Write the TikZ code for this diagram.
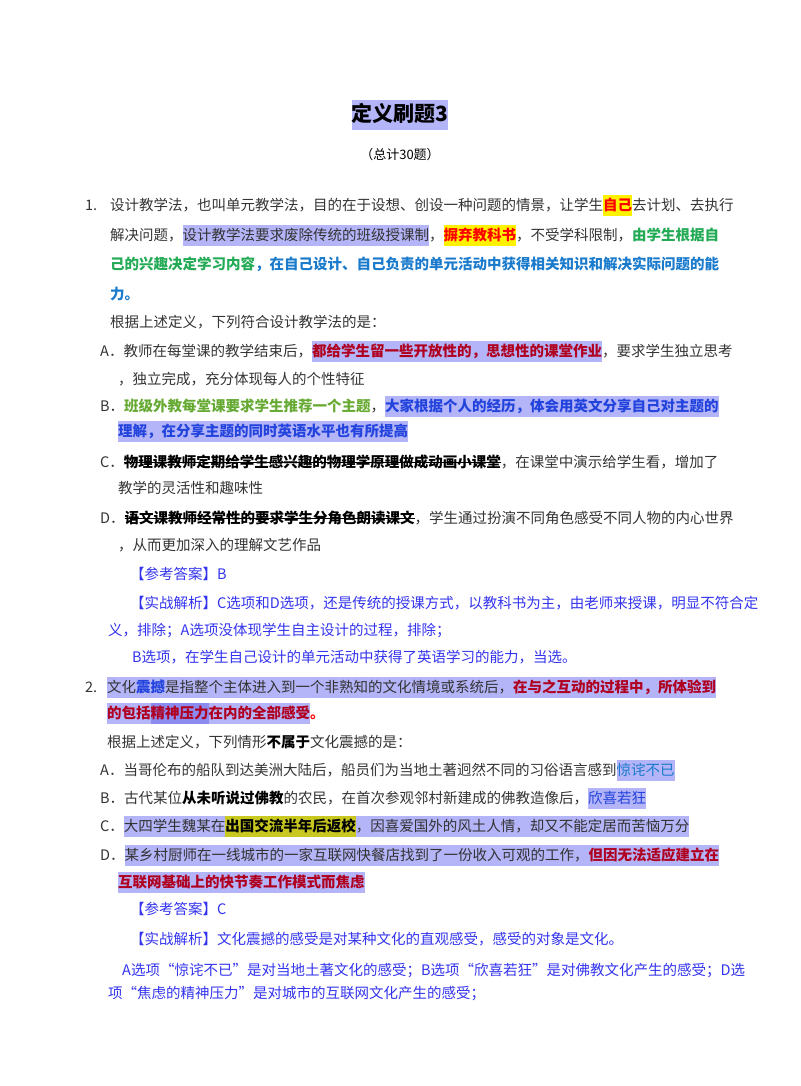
\documentclass[tikz,border=0pt]{standalone}
\usepackage{fontspec}
\setmainfont{Noto Sans CJK SC}
\usepackage{xcolor}
\definecolor{hlp}{HTML}{B4B4F8}
\definecolor{hlp2}{HTML}{8C8CF0}
\definecolor{hly}{HTML}{FFF200}
\definecolor{hlo}{HTML}{C8C820}
\definecolor{tgreen}{HTML}{22AA55}
\definecolor{tlgreen}{HTML}{66AA33}
\definecolor{tblue}{HTML}{1A7ACC}
\definecolor{tbblue}{HTML}{2244DD}
\definecolor{tred}{HTML}{B00020}
\definecolor{tana}{HTML}{3333EE}
\definecolor{tgray}{HTML}{333333}
\newcommand\hl[2]{{\setlength\fboxsep{0pt}\colorbox{#1}{\rule[-0.4em]{0pt}{1.45em}#2}}}
\newsavebox\sbx
\newcommand\strk[1]{\sbox\sbx{#1}\rlap{\usebox\sbx}{\color{black}\rule[0.3em]{\wd\sbx}{0.9pt}}}
\tikzset{ln/.style={anchor=base west,inner sep=0pt,font=\fontsize{14.5}{16}\selectfont,text=tgray},
ttl/.style={anchor=base,inner sep=0pt}}
\begin{document}
\begin{tikzpicture}[x=1pt,y=-1pt]
\useasboundingbox (0,0) rectangle (800,1086);
\node[ttl,font=\fontsize{21}{24}\selectfont\bfseries] (t) at (400,122) {\hl{hlp}{定义刷题3}};
\node[ttl,font=\fontsize{13}{15}\selectfont] (t2) at (400,160) {（总计30题）};
% Q1
\node[ln] (n1) at (85,210) {1.};
\node[ln] (q1a) at (110,210) {设计教学法，也叫单元教学法，目的在于设想、创设一种问题的情景，让学生\hl{hly}{\textcolor{red}{\bfseries 自己}}去计划、去执行};
\node[ln] (q1b) at (110,240) {解决问题，\hl{hlp}{设计教学法要求废除传统的班级授课制}，\hl{hly}{\textcolor{red}{\bfseries 摒弃教科书}}，不受学科限制，\textcolor{tgreen}{\bfseries 由学生根据自}};
\node[ln] (q1c) at (110,269) {\textcolor{tgreen}{\bfseries 己的兴趣决定学习内容}\textcolor{tblue}{\bfseries ，在自己设计、自己负责的单元活动中获得相关知识和解决实际问题的能}};
\node[ln] (q1d) at (110,299) {\textcolor{tblue}{\bfseries 力。}};
\node[ln] (q1q) at (110,327) {根据上述定义，下列符合设计教学法的是：};
\node[ln] (a1) at (100,356) {A．教师在每堂课的教学结束后，\hl{hlp}{\textcolor{tred}{\bfseries 都给学生留一些开放性的，思想性的课堂作业}}，要求学生独立思考};
\node[ln] (a1b) at (118,384) {，独立完成，充分体现每人的个性特征};
\node[ln] (b1) at (100,411) {B．\textcolor{tlgreen}{\bfseries 班级外教每堂课要求学生推荐一个主题}，\hl{hlp}{\textcolor{tbblue}{\bfseries 大家根据个人的经历，体会用英文分享自己对主题的}}};
\node[ln] (b1b) at (118,436) {\hl{hlp}{\textcolor{tbblue}{\bfseries 理解，在分享主题的同时英语水平也有所提高}}};
\node[ln] (c1) at (100,467) {C．\strk{\bfseries\color{black}物理课教师定期给学生感兴趣的物理学原理做成动画小课堂}，在课堂中演示给学生看，增加了};
\node[ln] (c1b) at (118,493) {教学的灵活性和趣味性};
\node[ln] (d1) at (100,523) {D．\strk{\bfseries\color{black}语文课教师经常性的要求学生分角色朗读课文}，学生通过扮演不同角色感受不同人物的内心世界};
\node[ln] (d1b) at (118,550) {，从而更加深入的理解文艺作品};
\node[ln,text=tana] (ans1) at (130,579) {【参考答案】B};
\node[ln,text=tana] (ex1) at (130,608) {【实战解析】C选项和D选项，还是传统的授课方式，以教科书为主，由老师来授课，明显不符合定};
\node[ln,text=tana] (ex1b) at (108,635) {义，排除；A选项没体现学生自主设计的过程，排除；};
\node[ln,text=tana] (ex1c) at (132,662) {B选项，在学生自己设计的单元活动中获得了英语学习的能力，当选。};
% Q2
\node[ln] (n2) at (85,692) {2.};
\node[ln] (q2a) at (107,692) {\hl{hlp}{文化\textcolor{tbblue}{\bfseries 震撼}是指整个主体进入到一个非熟知的文化情境或系统后，\textcolor{tred}{\bfseries 在与之互动的过程中，所体验到}}};
\node[ln] (q2b) at (107,718) {\hl{hlp}{\textcolor{tred}{\bfseries 的包括\hl{hlp2}{精神压力}在内的全部感受}}\textcolor{red}{\bfseries 。}};
\node[ln] (q2q) at (107,747) {根据上述定义，下列情形\textcolor{black}{\bfseries 不属于}文化震撼的是：};
\node[ln] (a2) at (100,775) {A．当哥伦布的船队到达美洲大陆后，船员们为当地土著迥然不同的习俗语言感到\hl{hlp}{\textcolor{tblue}{惊诧不已}}};
\node[ln] (b2) at (100,803) {B．古代某位\textcolor{black}{\bfseries 从未听说过佛教}的农民，在首次参观邻村新建成的佛教造像后，\hl{hlp}{\textcolor{tbblue}{欣喜若狂}}};
\node[ln] (c2) at (100,831) {C．\hl{hlp}{大四学生魏某在\hl{hlo}{\textcolor{black}{\bfseries 出国交流半年后返校}}，因喜爱国外的风土人情，却又不能定居而苦恼万分}};
\node[ln] (d2) at (100,860) {D．\hl{hlp}{某乡村厨师在一线城市的一家互联网快餐店找到了一份收入可观的工作，\textcolor{tred}{\bfseries 但因无法适应建立在}}};
\node[ln] (d2b) at (118,887) {\hl{hlp}{\textcolor{tred}{\bfseries 互联网基础上的快节奏工作模式而焦虑}}};
\node[ln,text=tana] (ans2) at (130,914) {【参考答案】C};
\node[ln,text=tana] (ex2) at (130,944) {【实战解析】文化震撼的感受是对某种文化的直观感受，感受的对象是文化。};
\node[ln,text=tana] (ex2b) at (122,975) {A选项“惊诧不已”是对当地土著文化的感受；B选项“欣喜若狂”是对佛教文化产生的感受；D选};
\node[ln,text=tana] (ex2c) at (108,998) {项“焦虑的精神压力”是对城市的互联网文化产生的感受；};
\end{tikzpicture}
\end{document}
